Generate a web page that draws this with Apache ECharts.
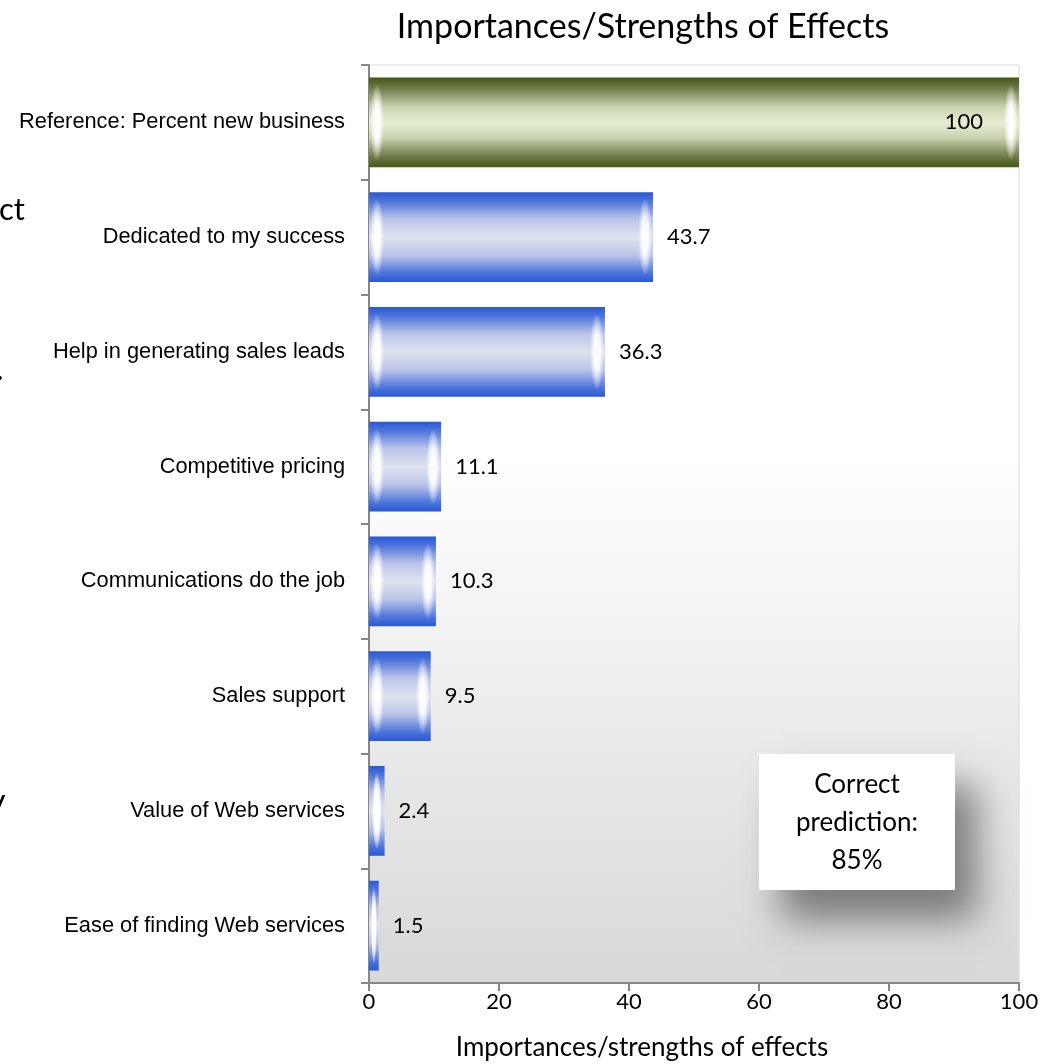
<!DOCTYPE html>
<html>
<head>
<meta charset="utf-8">
<style>
  html, body { margin: 0; padding: 0; background: #ffffff; }
  #chart { width: 1046px; height: 1064px; }
</style>
<script src="https://cdn.jsdelivr.net/npm/echarts@6/dist/echarts.min.js"></script>
</head>
<body>
<div id="chart"></div>
<script>
// Drivers of new business, ranked by importance
const categories = [
  'Reference: Percent new business',
  'Dedicated to my success',
  'Help in generating sales leads',
  'Competitive pricing',
  'Communications do the job',
  'Sales support',
  'Value of Web services',
  'Ease of finding Web services'
];
const strengths = [100, 43.7, 36.3, 11.1, 10.3, 9.5, 2.4, 1.5];
const xTicks = [0, 20, 40, 60, 80, 100];
const predictionText = ['Correct', 'prediction:', '85%'];

const chart = echarts.init(document.getElementById('chart'), null, { renderer: 'canvas' });

const G = echarts.graphic;
const blueFill = new G.LinearGradient(0, 0, 0, 1, [
  { offset: 0, color: '#2858d4' },
  { offset: 0.1, color: '#4d74db' },
  { offset: 0.3, color: '#bac4e8' },
  { offset: 0.5, color: '#dfe3ef' },
  { offset: 0.7, color: '#bac4e8' },
  { offset: 0.9, color: '#4d74db' },
  { offset: 1, color: '#2858d4' }
]);
const greenFill = new G.LinearGradient(0, 0, 0, 1, [
  { offset: 0, color: '#465616' },
  { offset: 0.12, color: '#6e7b48' },
  { offset: 0.33, color: '#c9d3b0' },
  { offset: 0.5, color: '#e6eed3' },
  { offset: 0.67, color: '#c9d3b0' },
  { offset: 0.88, color: '#6e7b48' },
  { offset: 1, color: '#465616' }
]);

const barData = strengths.map((v, i) => ({
  value: v,
  itemStyle: { color: i === 0 ? greenFill : blueFill },
  label: i === 0
    ? { position: 'insideRight', distance: 36 }
    : { position: 'right', distance: 14 }
}));

// glossy highlights at both ends of each bar: a soft circle stretched vertically
function renderCaps(params, api) {
  const v = api.value(0);
  const c = api.value(1);
  const p0 = api.coord([0, c]);
  const p1 = api.coord([v, c]);
  const band = Math.abs(api.coord([0, 1])[1] - api.coord([0, 0])[1]);
  const h = band * 0.784;
  const len = p1[0] - p0[0];
  const rx = Math.min(7, len / 3.2);
  const ry = h / 2 * 0.86;
  const inset = Math.min(8, len / 2);
  const glow = () => new G.RadialGradient(0.5, 0.5, 0.5, [
    { offset: 0, color: 'rgba(255,255,255,1)' },
    { offset: 0.45, color: 'rgba(255,255,255,0.9)' },
    { offset: 1, color: 'rgba(255,255,255,0)' }
  ]);
  const cap = (cx) => ({
    type: 'circle',
    x: cx, y: p0[1],
    scaleY: ry / rx,
    shape: { cx: 0, cy: 0, r: rx },
    style: { fill: glow() }
  });
  return {
    type: 'group',
    children: [cap(p0[0] + inset), cap(p1[0] - inset)]
  };
}

const option = {
  animation: false,
  backgroundColor: '#ffffff',
  title: {
    text: 'Importances/Strengths of Effects',
    left: 638,
    top: 5,
    textAlign: 'center',
    textStyle: { fontFamily: 'Lato', fontSize: 34, fontWeight: 'normal', color: '#000' }
  },
  grid: {
    left: 369, right: 27, top: 65, bottom: 81,
    outerBoundsMode: 'none',
    containLabel: false,
    show: true,
    borderWidth: 1,
    borderColor: '#d9d9d9',
    backgroundColor: new G.LinearGradient(0, 0, 0, 1, [
      { offset: 0, color: '#ffffff' },
      { offset: 0.43, color: '#ffffff' },
      { offset: 1, color: '#d8d8d8' }
    ])
  },
  xAxis: {
    type: 'value',
    min: 0, max: 100, interval: 20,
    name: 'Importances/strengths of effects',
    nameLocation: 'middle',
    nameGap: 52,
    nameTextStyle: { fontFamily: 'Lato', fontSize: 26, color: '#000', padding: [0, 104, 0, 0] },
    axisLine: { show: true, lineStyle: { color: '#868686', width: 2 } },
    axisTick: { show: true, length: 8, lineStyle: { color: '#868686', width: 2 } },
    axisLabel: {
      margin: 8, fontFamily: 'Lato', fontSize: 22, color: '#000',
      formatter: v => xTicks.includes(v) ? String(v) : ''
    },
    splitLine: { show: false }
  },
  yAxis: {
    type: 'category',
    data: categories,
    inverse: true,
    axisLine: { show: true, lineStyle: { color: '#868686', width: 2 } },
    axisTick: { show: true, length: 8, lineStyle: { color: '#868686', width: 2 } },
    axisLabel: {
      margin: 24, fontFamily: 'Liberation Sans Narrow, Liberation Sans, Arial, sans-serif',
      fontSize: 21.8, color: '#000'
    },
    splitLine: { show: false }
  },
  series: [
    {
      type: 'bar',
      data: barData,
      barCategoryGap: '21.6%',
      label: {
        show: true,
        fontFamily: 'Lato', fontSize: 22, color: '#000',
        padding: [4, 0, 0, 0],
        formatter: p => String(p.value)
      },
      z: 2
    },
    {
      type: 'custom',
      renderItem: renderCaps,
      data: strengths.map((v, i) => [v, i]),
      encode: { x: 0, y: 1 },
      silent: true,
      z: 3
    }
  ],
  graphic: [
    {
      type: 'group',
      left: 759, top: 754,
      z: 10,
      children: [
        {
          type: 'rect',
          shape: { x: 0, y: 0, width: 196, height: 136 },
          style: {
            fill: '#ffffff',
            shadowBlur: 36,
            shadowOffsetX: 22,
            shadowOffsetY: 30,
            shadowColor: 'rgba(0,0,0,0.45)'
          }
        },
        {
          type: 'text',
          x: 98, y: 69,
          style: {
            text: predictionText.join('\n'),
            align: 'center',
            verticalAlign: 'middle',
            lineHeight: 38,
            fontFamily: 'Lato', fontSize: 26, fill: '#000'
          }
        }
      ]
    },
    // fragments of adjacent text cut off at the left edge
    { type: 'text', x: -1, y: 210, style: { text: 'ct', verticalAlign: 'middle', fontFamily: 'Lato', fontSize: 31, fill: '#000' } },
    { type: 'text', x: -4, y: 370, style: { text: '.', verticalAlign: 'middle', fontFamily: 'Lato', fontSize: 32, fill: '#000' } },
    { type: 'text', x: -12, y: 802, style: { text: 'y', verticalAlign: 'middle', fontFamily: 'Lato', fontSize: 34, fill: '#000' } }
  ]
};

chart.setOption(option);
</script>
</body>
</html>
